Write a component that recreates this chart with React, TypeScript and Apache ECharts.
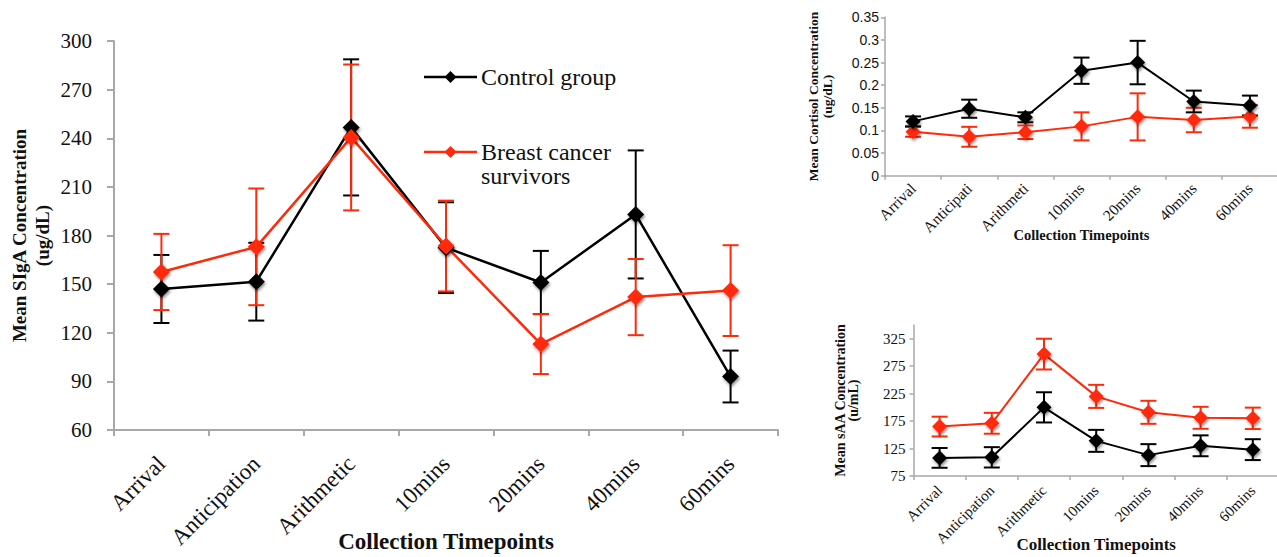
import React, { useEffect, useRef } from 'react';
import * as echarts from 'echarts';

const timepoints = ['Arrival', 'Anticipation', 'Arithmetic', '10mins', '20mins', '40mins', '60mins'];
const cortisolLabels = ['Arrival', 'Anticipati', 'Arithmeti', '10mins', '20mins', '40mins', '60mins'];
const seriesNames = ['Control group', 'Breast cancer survivors'];
const legendLabels = ['Control group', 'Breast cancer\nsurvivors'];

// SIgA (ug/dL)
const sigaControl = [147, 151.5, 246.7, 172.5, 151, 193, 93];
const sigaControlErr = [21, 24, 42, 28, 19.5, 39.5, 16];
const sigaSurvivors = [157.5, 173, 240.5, 173.5, 113, 142, 146];
const sigaSurvivorsErr = [23.5, 36, 45, 28, 18.5, 23.5, 28];

// Cortisol (ug/dL)
const cortisolControl = [0.12, 0.148, 0.129, 0.232, 0.25, 0.164, 0.155];
const cortisolControlErr = [0.011, 0.02, 0.011, 0.029, 0.048, 0.024, 0.022];
const cortisolSurvivors = [0.097, 0.086, 0.096, 0.109, 0.13, 0.123, 0.131];
const cortisolSurvivorsErr = [0.011, 0.022, 0.015, 0.031, 0.052, 0.027, 0.025];

// sAA (u/mL)
const saaControl = [108, 109, 200, 139, 113, 130, 123];
const saaControlErr = [18, 18.5, 27.5, 20, 20, 19, 19];
const saaSurvivors = [165, 171, 297, 220, 191, 181, 180];
const saaSurvivorsErr = [18, 19, 28, 21, 21, 20, 19.5];
const saaTicks = [75, 125, 175, 225, 275, 325];

const BLACK = '#000000';
const RED = '#ff2a0a';
const AXIS = '#a8a8a8';
const SERIF = '"Liberation Serif", "Times New Roman", serif';
const SANS = '"Liberation Sans", Arial, sans-serif';

function errData(mean: number[], err: number[]) {
  return mean.map((m, i) => [i, m - err[i], m + err[i]]);
}

function errorSeries(idx: number, mean: number[], err: number[], color: string, cap: number, width: number) {
  return {
    type: 'custom',
    xAxisIndex: idx,
    yAxisIndex: idx,
    silent: true,
    encode: { x: 0, y: [1, 2] },
    data: errData(mean, err),
    renderItem: (params: any, api: any) => {
      const x = api.value(0);
      const lo = api.coord([x, api.value(1)]);
      const hi = api.coord([x, api.value(2)]);
      const h = cap / 2;
      const style = { stroke: color, lineWidth: width };
      return {
        type: 'group',
        children: [
          { type: 'line', shape: { x1: hi[0], y1: hi[1], x2: lo[0], y2: lo[1] }, style },
          { type: 'line', shape: { x1: hi[0] - h, y1: hi[1], x2: hi[0] + h, y2: hi[1] }, style },
          { type: 'line', shape: { x1: lo[0] - h, y1: lo[1], x2: lo[0] + h, y2: lo[1] }, style },
        ],
      };
    },
  };
}

function lineSeries(idx: number, name: string, data: number[], color: string, size: number, width: number) {
  return {
    type: 'line',
    name,
    xAxisIndex: idx,
    yAxisIndex: idx,
    data,
    symbol: 'diamond',
    symbolSize: size,
    showAllSymbol: true,
    lineStyle: { color, width },
    itemStyle: {
      color,
      shadowBlur: 3,
      shadowColor: 'rgba(0,0,0,0.45)',
      shadowOffsetX: 1,
      shadowOffsetY: 2,
    },
    emphasis: { disabled: true },
  };
}

function legendEntry(x: number, y: number, color: string, label: string) {
  const d = 6;
  const cx = x + 26.5;
  return {
    type: 'group',
    silent: true,
    children: [
      { type: 'line', shape: { x1: x, y1: y, x2: x + 53, y2: y }, style: { stroke: color, lineWidth: 2.5 } },
      {
        type: 'polygon',
        shape: { points: [[cx, y - d], [cx + d, y], [cx, y + d], [cx - d, y]] },
        style: { fill: color },
      },
      {
        type: 'text',
        x: x + 57,
        y: y - 12,
        style: {
          text: label,
          fontFamily: SERIF,
          fontSize: 24,
          lineHeight: 24,
          fill: '#111',
          align: 'left',
          verticalAlign: 'top',
        },
      },
    ],
  };
}

export default function App() {
  const ref = useRef<HTMLDivElement>(null);

  useEffect(() => {
    if (!ref.current) return;
    const chart = echarts.init(ref.current, undefined, { renderer: 'svg' });

    const catAxis = (gridIndex: number, data: string[], fontSize: number, margin: number, name: string, nameSize: number, nameGap: number, lineW: number, tickLen: number) => ({
      type: 'category',
      gridIndex,
      data,
      boundaryGap: true,
      name,
      nameLocation: 'middle',
      nameGap,
      nameMoveOverlap: false,
      nameTextStyle: { fontFamily: SERIF, fontWeight: 'bold', fontSize: nameSize, color: '#111' },
      axisLine: { show: true, lineStyle: { color: AXIS, width: lineW } },
      axisTick: { show: true, alignWithLabel: false, length: tickLen, lineStyle: { color: AXIS, width: lineW } },
      axisLabel: { interval: 0, rotate: 45, margin, fontFamily: SERIF, fontSize, color: '#111' },
      splitLine: { show: false },
    });

    const option: any = {
      animation: false,
      backgroundColor: '#ffffff',
      grid: [
        { left: 114, top: 41, width: 664, height: 389, containLabel: false, outerBoundsMode: 'none' },
        { left: 885, top: 17.3, width: 393, height: 158.4, containLabel: false, outerBoundsMode: 'none' },
        { left: 913.5, top: 325, width: 365.4, height: 151, containLabel: false, outerBoundsMode: 'none' },
      ],
      graphic: [
        legendEntry(424, 77, BLACK, legendLabels[0]),
        legendEntry(424, 152, RED, legendLabels[1]),
      ],
      xAxis: [
        catAxis(0, timepoints, 23, 30, 'Collection Timepoints', 23, 100, 2, 6),
        catAxis(1, cortisolLabels, 15.5, 10, 'Collection Timepoints', 14.5, 52, 1.5, 4),
        catAxis(2, timepoints, 15, 12, 'Collection Timepoints', 17, 60, 1.5, 4),
      ],
      yAxis: [
        {
          type: 'value',
          gridIndex: 0,
          min: 60,
          max: 300,
          interval: 30,
          name: 'Mean SIgA Concentration\n(ug/dL)',
          nameLocation: 'middle',
          nameGap: 60,
          nameMoveOverlap: false,
          nameTextStyle: { fontFamily: SERIF, fontWeight: 'bold', fontSize: 19, lineHeight: 23, color: '#111' },
          axisLine: { show: true, lineStyle: { color: AXIS, width: 2 } },
          axisTick: { show: true, length: 7, lineStyle: { color: AXIS, width: 2 } },
          axisLabel: { margin: 22, fontFamily: SERIF, fontSize: 21, color: '#111' },
          splitLine: { show: false },
        },
        {
          type: 'value',
          gridIndex: 1,
          min: 0,
          max: 0.35,
          interval: 0.05,
          name: 'Mean Cortisol Concentration\n(ug/dL)',
          nameLocation: 'middle',
          nameGap: 51,
          nameMoveOverlap: false,
          nameTextStyle: { fontFamily: SERIF, fontWeight: 'bold', fontSize: 13.5, lineHeight: 14, color: '#111' },
          axisLine: { show: true, lineStyle: { color: AXIS, width: 1.5 } },
          axisTick: { show: true, length: 4, lineStyle: { color: AXIS, width: 1.5 } },
          axisLabel: { margin: 6, fontFamily: SANS, fontSize: 14, color: '#111' },
          splitLine: { show: false },
        },
        {
          type: 'value',
          gridIndex: 2,
          min: 75,
          max: 350,
          name: 'Mean sAA Concentration\n(u/mL)',
          nameLocation: 'middle',
          nameGap: 54,
          nameMoveOverlap: false,
          nameTextStyle: { fontFamily: SERIF, fontWeight: 'bold', fontSize: 14, lineHeight: 12.5, color: '#111' },
          axisLine: { show: true, lineStyle: { color: AXIS, width: 1.5 } },
          axisTick: { show: true, length: 4, customValues: saaTicks, lineStyle: { color: AXIS, width: 1.5 } },
          axisLabel: { margin: 8, customValues: saaTicks, fontFamily: SERIF, fontSize: 15, color: '#111' },
          splitLine: { show: false },
        },
      ],
      series: [
        errorSeries(0, sigaControl, sigaControlErr, BLACK, 16, 2),
        lineSeries(0, seriesNames[0], sigaControl, BLACK, 17, 2.5),
        errorSeries(0, sigaSurvivors, sigaSurvivorsErr, RED, 16, 2),
        lineSeries(0, seriesNames[1], sigaSurvivors, RED, 17, 2.5),

        errorSeries(1, cortisolSurvivors, cortisolSurvivorsErr, RED, 16, 2),
        lineSeries(1, seriesNames[1], cortisolSurvivors, RED, 15, 2),
        errorSeries(1, cortisolControl, cortisolControlErr, BLACK, 16, 2),
        lineSeries(1, seriesNames[0], cortisolControl, BLACK, 15, 2),

        errorSeries(2, saaControl, saaControlErr, BLACK, 16, 2),
        lineSeries(2, seriesNames[0], saaControl, BLACK, 15, 2),
        errorSeries(2, saaSurvivors, saaSurvivorsErr, RED, 16, 2),
        lineSeries(2, seriesNames[1], saaSurvivors, RED, 15, 2),
      ],
    };

    chart.setOption(option);
    return () => chart.dispose();
  }, []);

  return (
    <div
      ref={ref}
      style={{ position: 'absolute', left: 0, top: 0, width: 1277, height: 557, background: '#fff' }}
    />
  );
}
